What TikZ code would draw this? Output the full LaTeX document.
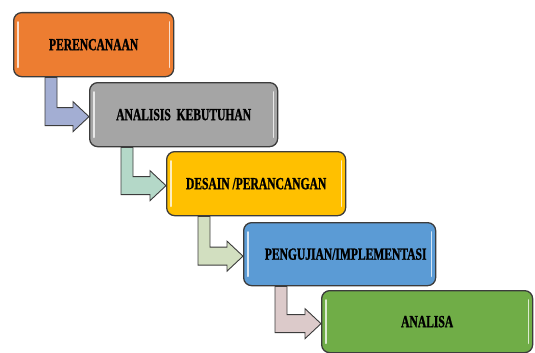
\documentclass[tikz,border=0pt]{standalone}
\usepackage{fontspec}
\setmainfont{Liberation Serif}
\newfontfamily\stepfont{Liberation Serif}[UprightFont={* Bold},FakeStretch=0.68,FakeBold=1.2]
\usetikzlibrary{calc}
\definecolor{c1}{HTML}{ED7D31}
\definecolor{c2}{HTML}{A5A5A5}
\definecolor{c3}{HTML}{FFC000}
\definecolor{c4}{HTML}{5B9BD5}
\definecolor{c5}{HTML}{70AD47}
\definecolor{a1}{HTML}{A3AED3}
\definecolor{a2}{HTML}{B4D8C8}
\definecolor{a3}{HTML}{D2DFC0}
\definecolor{a4}{HTML}{DCCACA}
\definecolor{edge}{HTML}{3C3C3C}
\tikzset{
  stepbox/.style={draw=edge, line width=1.3pt, rounded corners=8pt, inner sep=0pt,
    font=\stepfont\fontsize{17}{20}\selectfont, text=black, anchor=north west},
  arrowshape/.style={draw=edge, line width=0.9pt, line join=miter},
  shine/.style={white, opacity=0.75, line width=1.6pt, line cap=round}
}
\newcommand{\stepnode}[7]{%
  % #1 name, #2 x, #3 y, #4 width, #5 height, #6 colour, #7 text
  \node[stepbox, fill=#6, minimum width=#4pt, minimum height=#5pt] (#1) at (#2,-#3) {#7};
  \draw[shine] ($(#1.north west)+(5,-10)$) -- ($(#1.south west)+(5,10)$);
  \draw[shine] ($(#1.north east)+(-5,-10)$) -- ($(#1.south east)+(-5,10)$);
}
\newcommand{\bentarrow}[3]{%
  % #1 from box, #2 to box, #3 fill
  \coordinate (T) at ($(#1.south west)+(32,0)$);
  \coordinate (C) at ($(#2.west)+(0,-2)$);
  \draw[arrowshape, fill=#3]
    (T) -- ++(12,0) |- ($(C)+(-16,9)$) -- ++(0,6) -- (C) -- ++(-16,-15) -- ++(0,6)
    -| (T) -- cycle;
}
\begin{document}
\begin{tikzpicture}[x=1pt,y=1pt]
\useasboundingbox (0,0) rectangle (535,-353);
\stepnode{b1}{13}{12}{160}{64}{c1}{PERENCANAAN}
\stepnode{b2}{89}{82}{188}{64}{c2}{ANALISIS\ \ KEBUTUHAN}
\stepnode{b3}{166}{151}{179}{64}{c3}{DESAIN /PERANCANGAN}
\stepnode{b4}{243}{222}{192}{63}{c4}{\hspace*{12pt}PENGUJIAN/IMPLEMENTASI}
\stepnode{b5}{321}{290}{211}{62}{c5}{ANALISA}
\bentarrow{b1}{b2}{a1}
\bentarrow{b2}{b3}{a2}
\bentarrow{b3}{b4}{a3}
\bentarrow{b4}{b5}{a4}
\end{tikzpicture}
\end{document}
